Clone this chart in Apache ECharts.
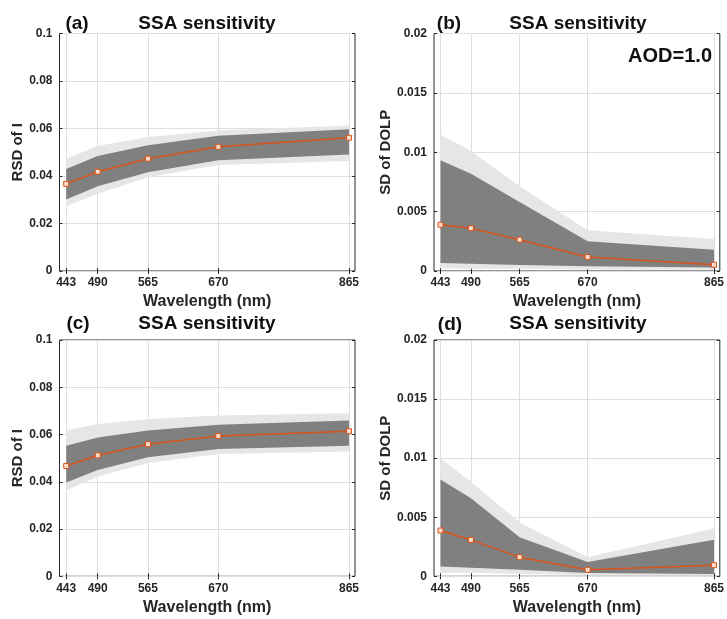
<!DOCTYPE html>
<html><head><meta charset="utf-8">
<script src="https://cdn.jsdelivr.net/npm/echarts@6/dist/echarts.min.js"></script>
<style>html,body{margin:0;padding:0;background:#fff}#c{width:727px;height:619px}</style>
</head><body><div id="c"></div>
<script>
const wavelengths = [443, 490, 565, 670, 865];
const xTicks = [443, 490, 565, 670, 865];
const panelLetters = ['(a)', '(b)', '(c)', '(d)'];
const panelTitle = 'SSA sensitivity';
const yNames = ['RSD of I', 'SD of DOLP', 'RSD of I', 'SD of DOLP'];
const xName = 'Wavelength (nm)';
const aodLabel = 'AOD=1.0';

// (a)
const aLine    = [0.0367, 0.0418, 0.0473, 0.0523, 0.0561];
const aDarkHi  = [0.0430, 0.0484, 0.0530, 0.0570, 0.0597];
const aDarkLo  = [0.0301, 0.0357, 0.0416, 0.0466, 0.0491];
const aLightHi = [0.0473, 0.0526, 0.0564, 0.0592, 0.0613];
const aLightLo = [0.0273, 0.0325, 0.0395, 0.0446, 0.0463];
// (b)
const bLine    = [0.0039, 0.0036, 0.00264, 0.00118, 0.00053];
const bDarkHi  = [0.00933, 0.0082, 0.00581, 0.0025, 0.0018];
const bDarkLo  = [0.00067, 0.00062, 0.0005, 0.00039, 0.0003];
const bLightHi = [0.0115, 0.0101, 0.00713, 0.00343, 0.0027];
const bLightLo = [0.00022, 0.0002, 0.00018, 0.00012, 0.0001];
// (c)
const cLine    = [0.0467, 0.0512, 0.0559, 0.0594, 0.0614];
const cDarkHi  = [0.0552, 0.0587, 0.0617, 0.0641, 0.0659];
const cDarkLo  = [0.0397, 0.0450, 0.0504, 0.0539, 0.0553];
const cLightHi = [0.0617, 0.0645, 0.0666, 0.0680, 0.0690];
const cLightLo = [0.0363, 0.0422, 0.0479, 0.0518, 0.0528];
// (d)
const dLine    = [0.00387, 0.00308, 0.00162, 0.00055, 0.00094];
const dDarkHi  = [0.0082, 0.0066, 0.0033, 0.0012, 0.0031];
const dDarkLo  = [0.00083, 0.00072, 0.00055, 0.00027, 0.0002];
const dLightHi = [0.0100, 0.0080, 0.00455, 0.00162, 0.00404];
const dLightLo = [0.0003, 0.0003, 0.0002, 0.0001, 0.0001];

const yMaxes = [0.1, 0.02, 0.1, 0.02];
const yIntervals = [0.02, 0.005, 0.02, 0.005];

const panels = [
  {line: aLine, dHi: aDarkHi, dLo: aDarkLo, lHi: aLightHi, lLo: aLightLo},
  {line: bLine, dHi: bDarkHi, dLo: bDarkLo, lHi: bLightHi, lLo: bLightLo},
  {line: cLine, dHi: cDarkHi, dLo: cDarkLo, lHi: cLightHi, lLo: cLightLo},
  {line: dLine, dHi: dDarkHi, dLo: dDarkLo, lHi: dLightHi, lLo: dLightLo}
];

const FONT = 'Arial, "Liberation Sans", sans-serif';
const TXT = '#262626';
const gridBoxes = [
  {left: 59.5, top: 33.5, width: 295.5, height: 237.5},
  {left: 434, top: 33.5, width: 287.5, height: 237.5},
  {left: 59.5, top: 340, width: 295.5, height: 236.3},
  {left: 434, top: 340, width: 287.5, height: 236.3}
];
const yNameGaps = [31, 38, 31, 38];

const grid = gridBoxes.map(g => Object.assign({show: true, borderColor: TXT, borderWidth: 1, backgroundColor: 'transparent'}, g));
const xAxis = [], yAxis = [], series = [];

gridBoxes.forEach((g, i) => {
  xAxis.push({
    type: 'value', gridIndex: i, min: 433, max: 874, position: 'bottom',
    axisLine: {show: false},
    axisTick: {show: true, inside: true, length: 3, customValues: xTicks, lineStyle: {color: TXT}},
    axisLabel: {customValues: xTicks, color: TXT, fontWeight: 'bold', fontSize: 12, fontFamily: FONT, margin: 6},
    splitLine: {show: true, lineStyle: {color: '#dedede', width: 1}},
    name: xName, nameLocation: 'middle', nameGap: 23,
    nameTextStyle: {color: TXT, fontWeight: 'bold', fontSize: 16, fontFamily: FONT}
  });
  xAxis.push({
    type: 'value', gridIndex: i, min: 433, max: 874, position: 'top',
    axisLine: {show: false},
    axisTick: {show: true, inside: true, length: 3, customValues: xTicks, lineStyle: {color: TXT}},
    axisLabel: {show: false}, splitLine: {show: false}
  });
  yAxis.push({
    type: 'value', gridIndex: i, min: 0, max: yMaxes[i], interval: yIntervals[i], position: 'left',
    axisLine: {show: false},
    axisTick: {show: true, inside: true, length: 3, lineStyle: {color: TXT}},
    axisLabel: {color: TXT, fontWeight: 'bold', fontSize: 12, fontFamily: FONT, margin: 7},
    splitLine: {show: true, lineStyle: {color: '#dedede', width: 1}},
    name: yNames[i], nameLocation: 'middle', nameGap: yNameGaps[i],
    nameTextStyle: {color: TXT, fontWeight: 'bold', fontSize: 15, fontFamily: FONT}
  });
  yAxis.push({
    type: 'value', gridIndex: i, min: 0, max: yMaxes[i], interval: yIntervals[i], position: 'right',
    axisLine: {show: false},
    axisTick: {show: true, inside: true, length: 3, lineStyle: {color: TXT}},
    axisLabel: {show: false}, splitLine: {show: false}
  });

  const p = panels[i];
  const band = (lo, hi, color, z) => {
    const data = wavelengths.map((w, k) => [w, lo[k], hi[k]]);
    return {
      type: 'custom', xAxisIndex: 2 * i, yAxisIndex: 2 * i, z: z, silent: true,
      encode: {x: 0, y: [1, 2]},
      data: data,
      renderItem: function (params, api) {
        if (params.dataIndex !== 0) return null;
        const pts = [];
        data.forEach(d => pts.push(api.coord([d[0], d[2]])));
        for (let k = data.length - 1; k >= 0; k--) pts.push(api.coord([data[k][0], data[k][1]]));
        return {type: 'polygon', shape: {points: pts}, style: {fill: color, stroke: null}};
      }
    };
  };
  series.push(band(p.lLo, p.lHi, '#e6e6e6', 2));
  series.push(band(p.dLo, p.dHi, '#808080', 3));
  series.push({
    type: 'line', xAxisIndex: 2 * i, yAxisIndex: 2 * i, z: 5,
    data: wavelengths.map((w, k) => [w, p.line[k]]),
    symbol: 'rect', symbolSize: 5, showSymbol: true,
    lineStyle: {color: '#d95319', width: 1.5},
    itemStyle: {color: '#f9dccb', borderColor: '#d95319', borderWidth: 1},
    animation: false
  });
});

const titleFont = 'bold 19px ' + FONT;
const graphic = [];
const letterPos = [[77, 24], [449, 24], [78, 324], [450, 325]];
const titlePos = [[207, 24], [578, 24], [207, 324], [578, 324]];
for (let i = 0; i < 4; i++) {
  graphic.push({type: 'text', x: letterPos[i][0], y: letterPos[i][1], style: {text: panelLetters[i], font: titleFont, fill: '#111', align: 'center', verticalAlign: 'middle'}});
  graphic.push({type: 'text', x: titlePos[i][0], y: titlePos[i][1], style: {text: panelTitle, font: titleFont, fill: '#111', align: 'center', verticalAlign: 'middle'}});
}
graphic.push({type: 'text', x: 712, y: 56, style: {text: aodLabel, font: 'bold 20px ' + FONT, fill: '#111', align: 'right', verticalAlign: 'middle'}});

const chart = echarts.init(document.getElementById('c'), null, {renderer: 'canvas'});
chart.setOption({
  backgroundColor: '#ffffff',
  animation: false,
  grid: grid, xAxis: xAxis, yAxis: yAxis, series: series, graphic: graphic
});
</script></body></html>
